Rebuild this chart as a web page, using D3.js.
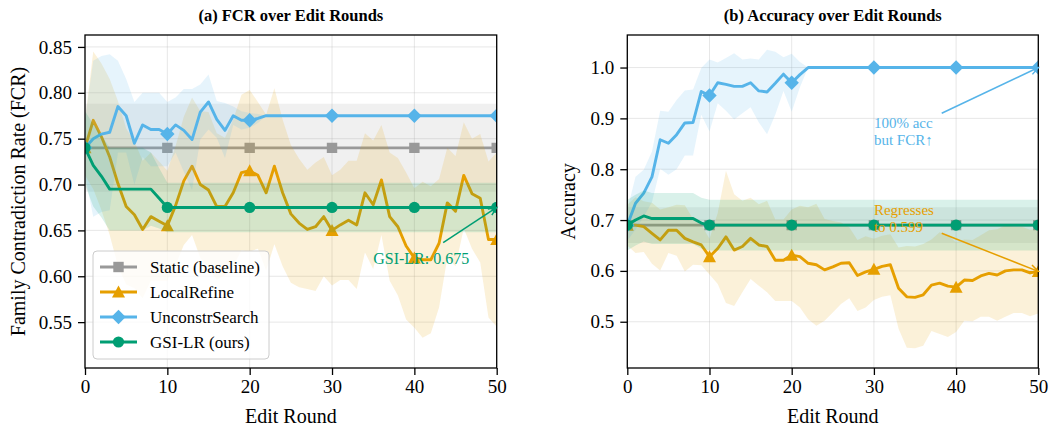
<!DOCTYPE html>
<html>
<head>
<meta charset="utf-8">
<script src="https://cdn.jsdelivr.net/npm/d3@7"></script>
<style>
  body { margin: 0; background: #fff; }
  svg { font-family: "Liberation Serif", "Times New Roman", serif; }
</style>
</head>
<body>
<svg id="chart" width="1049" height="427"></svg>
<script>
// ---- data ----
const rounds = d3.range(0, 51)
const xTicks = [0, 10, 20, 30, 40, 50]
const fcrTicks = [0.55, 0.60, 0.65, 0.70, 0.75, 0.80, 0.85]
const accTicks = [0.5, 0.6, 0.7, 0.8, 0.9, 1.0]

const methods = ['Static (baseline)', 'LocalRefine', 'UnconstrSearch', 'GSI-LR (ours)']
const colors = ['#999999', '#E69F00', '#56B4E9', '#009E73']
const markers = ['square', 'triangle', 'diamond', 'circle']

// (a) FCR, mean and std per round
const fcrStatic = [0.74,0.74,0.74,0.74,0.74,0.74,0.74,0.74,0.74,0.74,0.74,
  0.74,0.74,0.74,0.74,0.74,0.74,0.74,0.74,0.74,0.74,0.74,0.74,0.74,0.74,0.74,
  0.74,0.74,0.74,0.74,0.74,0.74,0.74,0.74,0.74,0.74,0.74,0.74,0.74,0.74,0.74,
  0.74,0.74,0.74,0.74,0.74,0.74,0.74,0.74,0.74,0.74]
const fcrStaticSd = [0.048,0.048,0.048,0.048,0.048,0.048,0.048,0.048,0.048,0.048,0.048,
  0.048,0.048,0.048,0.048,0.048,0.048,0.048,0.048,0.048,0.048,0.048,0.048,0.048,0.048,0.048,
  0.048,0.048,0.048,0.048,0.048,0.048,0.048,0.048,0.048,0.048,0.048,0.048,0.048,0.048,0.048,
  0.048,0.048,0.048,0.048,0.048,0.048,0.048,0.048,0.048,0.048]
const fcrLocal = [0.740,0.770,0.752,0.730,0.701,0.676,0.667,0.651,0.665,0.660,0.655,
  0.677,0.704,0.720,0.700,0.694,0.676,0.676,0.691,0.713,0.715,
  0.710,0.691,0.720,0.691,0.668,0.658,0.651,0.654,0.665,0.650,
  0.656,0.661,0.656,0.691,0.678,0.705,0.665,0.654,0.633,0.620,
  0.618,0.618,0.636,0.680,0.671,0.710,0.690,0.685,0.640,0.640]
const fcrLocalSd = [0.030,0.075,0.080,0.085,0.090,0.085,0.080,0.075,0.070,0.065,0.060,
  0.065,0.070,0.075,0.080,0.085,0.080,0.075,0.080,0.085,0.088,
  0.080,0.085,0.085,0.080,0.075,0.070,0.065,0.070,0.065,0.060,
  0.060,0.065,0.070,0.065,0.070,0.060,0.070,0.075,0.080,0.076,
  0.085,0.080,0.070,0.060,0.060,0.058,0.060,0.070,0.085,0.095]
const fcrUnc = [0.740,0.750,0.755,0.757,0.785,0.775,0.745,0.765,0.760,0.760,0.755,
  0.765,0.759,0.749,0.779,0.790,0.771,0.759,0.775,0.770,0.770,
  0.772,0.775,0.775,0.775,0.775,0.775,0.775,0.775,0.775,0.775,
  0.775,0.775,0.775,0.775,0.775,0.775,0.775,0.775,0.775,0.775,
  0.775,0.775,0.775,0.775,0.775,0.775,0.775,0.775,0.775,0.775]
const fcrUncSd = [0.030,0.085,0.085,0.085,0.050,0.040,0.045,0.035,0.040,0.040,0.035,
  0.030,0.045,0.055,0.030,0.030,0.020,0.030,0.010,0.010,0.008,
  0.005,0,0,0,0,0,0,0,0,0,
  0,0,0,0,0,0,0,0,0,0,
  0,0,0,0,0,0,0,0,0,0]
const fcrGsi = [0.740,0.721,0.709,0.695,0.695,0.695,0.695,0.695,0.695,0.685,0.675,
  0.675,0.675,0.675,0.675,0.675,0.675,0.675,0.675,0.675,0.675,
  0.675,0.675,0.675,0.675,0.675,0.675,0.675,0.675,0.675,0.675,
  0.675,0.675,0.675,0.675,0.675,0.675,0.675,0.675,0.675,0.675,
  0.675,0.675,0.675,0.675,0.675,0.675,0.675,0.675,0.675,0.675]
const fcrGsiSd = [0.040,0.045,0.045,0.045,0.045,0.045,0.045,0.045,0.040,0.033,0.027,
  0.027,0.027,0.027,0.027,0.027,0.027,0.027,0.027,0.027,0.027,
  0.027,0.027,0.027,0.027,0.027,0.027,0.027,0.027,0.027,0.027,
  0.027,0.027,0.027,0.027,0.027,0.027,0.027,0.027,0.027,0.027,
  0.027,0.027,0.027,0.027,0.027,0.027,0.027,0.027,0.027,0.027]

// (b) Accuracy, mean and std per round
const accStatic = [0.69,0.69,0.69,0.69,0.69,0.69,0.69,0.69,0.69,0.69,0.69,
  0.69,0.69,0.69,0.69,0.69,0.69,0.69,0.69,0.69,0.69,0.69,0.69,0.69,0.69,0.69,
  0.69,0.69,0.69,0.69,0.69,0.69,0.69,0.69,0.69,0.69,0.69,0.69,0.69,0.69,0.69,
  0.69,0.69,0.69,0.69,0.69,0.69,0.69,0.69,0.69,0.69]
const accStaticSd = [0.035,0.035,0.035,0.035,0.035,0.035,0.035,0.035,0.035,0.035,0.035,
  0.035,0.035,0.035,0.035,0.035,0.035,0.035,0.035,0.035,0.035,0.035,0.035,0.035,0.035,0.035,
  0.035,0.035,0.035,0.035,0.035,0.035,0.035,0.035,0.035,0.035,0.035,0.035,0.035,0.035,0.035,
  0.035,0.035,0.035,0.035,0.035,0.035,0.035,0.035,0.035,0.035]
const accLocal = [0.690,0.690,0.687,0.674,0.661,0.680,0.680,0.664,0.657,0.651,0.628,
  0.644,0.667,0.641,0.648,0.664,0.651,0.648,0.621,0.621,0.631,
  0.628,0.615,0.612,0.602,0.608,0.615,0.616,0.591,0.598,0.603,
  0.609,0.612,0.566,0.549,0.548,0.553,0.572,0.576,0.570,0.568,
  0.582,0.581,0.590,0.595,0.592,0.600,0.602,0.602,0.596,0.599]
const accLocalSd = [0.040,0.055,0.050,0.060,0.060,0.045,0.050,0.065,0.045,0.040,0.035,
  0.070,0.130,0.110,0.090,0.080,0.080,0.090,0.080,0.080,0.090,
  0.100,0.110,0.120,0.100,0.090,0.080,0.070,0.070,0.070,0.060,
  0.060,0.060,0.080,0.100,0.100,0.100,0.090,0.100,0.100,0.088,
  0.080,0.080,0.080,0.085,0.090,0.090,0.085,0.085,0.085,0.083]
const accUnc = [0.690,0.733,0.753,0.785,0.858,0.851,0.868,0.891,0.892,0.953,0.945,
  0.970,0.967,0.963,0.963,0.970,0.954,0.952,0.969,0.987,0.970,
  0.986,1,1,1,1,1,1,1,1,1,
  1,1,1,1,1,1,1,1,1,1,
  1,1,1,1,1,1,1,1,1,1]
const accUncSd = [0.030,0.052,0.046,0.050,0.057,0.062,0.068,0.064,0.065,0.046,0.071,
  0.040,0.052,0.065,0.053,0.048,0.062,0.083,0.062,0.033,0.057,
  0.025,0,0,0,0,0,0,0,0,0,
  0,0,0,0,0,0,0,0,0,0,
  0,0,0,0,0,0,0,0,0,0]
const accGsi = [0.690,0.700,0.708,0.703,0.703,0.703,0.703,0.703,0.703,0.694,0.690,
  0.690,0.690,0.690,0.690,0.690,0.690,0.690,0.690,0.690,0.690,
  0.690,0.690,0.690,0.690,0.690,0.690,0.690,0.690,0.690,0.690,
  0.690,0.690,0.690,0.690,0.690,0.690,0.690,0.690,0.690,0.690,
  0.690,0.690,0.690,0.690,0.690,0.690,0.690,0.690,0.690,0.690]
const accGsiSd = [0.05,0.05,0.05,0.05,0.05,0.05,0.05,0.05,0.05,0.05,0.05,
  0.05,0.05,0.05,0.05,0.05,0.05,0.05,0.05,0.05,0.05,0.05,0.05,0.05,0.05,0.05,
  0.05,0.05,0.05,0.05,0.05,0.05,0.05,0.05,0.05,0.05,0.05,0.05,0.05,0.05,0.05,
  0.05,0.05,0.05,0.05,0.05,0.05,0.05,0.05,0.05,0.05]

// ---- layout ----
const plotTop = 35, plotBottom = 368
const svg = d3.select('#chart')

function markerPath(type) {
  if (type === 'square') return 'M-5.2,-5.2H5.2V5.2H-5.2Z'
  if (type === 'triangle') return 'M0,-6.5L6.5,5.5L-6.5,5.5Z'
  if (type === 'diamond') return 'M0,-7.2L7.2,0L0,7.2L-7.2,0Z'
  return d3.arc()({ innerRadius: 0, outerRadius: 5.6, startAngle: 0, endAngle: 2 * Math.PI })
}

function drawArrow(g, x1, y1, x2, y2, color) {
  g.append('line')
    .attr('x1', x1).attr('y1', y1).attr('x2', x2).attr('y2', y2)
    .attr('stroke', color).attr('stroke-width', 1.5)
  const ang = Math.atan2(y2 - y1, x2 - x1)
  const len = 9, w = 0.42
  const p1 = [x2 - len * Math.cos(ang - w), y2 - len * Math.sin(ang - w)]
  const p2 = [x2 - len * Math.cos(ang + w), y2 - len * Math.sin(ang + w)]
  g.append('path')
    .attr('d', `M${p1[0]},${p1[1]}L${x2},${y2}L${p2[0]},${p2[1]}`)
    .attr('fill', 'none').attr('stroke', color).attr('stroke-width', 1.5)
}

function panel(o) {
  const x = d3.scaleLinear().domain([0, 50]).range([o.left, o.right])
  const y = d3.scaleLinear().domain(o.yDomain).range([plotBottom, plotTop])
  const g = svg.append('g')

  const clipId = 'clip' + o.id
  g.append('clipPath').attr('id', clipId)
    .append('rect').attr('x', o.left).attr('y', plotTop)
    .attr('width', o.right - o.left).attr('height', plotBottom - plotTop)

  // grid
  const grid = g.append('g').attr('stroke', '#b0b0b0').attr('stroke-opacity', 0.3).attr('stroke-width', 1)
  xTicks.forEach(t => grid.append('line').attr('x1', x(t)).attr('x2', x(t)).attr('y1', plotTop).attr('y2', plotBottom))
  o.yTicks.forEach(t => grid.append('line').attr('x1', o.left).attr('x2', o.right).attr('y1', y(t)).attr('y2', y(t)))

  const plot = g.append('g').attr('clip-path', `url(#${clipId})`)
  o.series.forEach((s, i) => {
    const area = d3.area()
      .x((d, k) => x(rounds[k]))
      .y0((d, k) => y(s.mean[k] - s.sd[k]))
      .y1((d, k) => y(s.mean[k] + s.sd[k]))
    plot.append('path').datum(s.mean).attr('d', area)
      .attr('fill', colors[i]).attr('fill-opacity', 0.15)

    const line = d3.line().x((d, k) => x(rounds[k])).y(d => y(d))
    plot.append('path').datum(s.mean).attr('d', line)
      .attr('fill', 'none').attr('stroke', colors[i]).attr('stroke-width', 2.9)
      .attr('stroke-linejoin', 'round')

    plot.selectAll(null)
      .data(rounds.filter(r => r % 10 === 0))
      .enter().append('path')
      .attr('d', markerPath(markers[i]))
      .attr('transform', r => `translate(${x(r)},${y(s.mean[r])})`)
      .attr('fill', colors[i])
  })

  // frame
  g.append('rect').attr('x', o.left).attr('y', plotTop)
    .attr('width', o.right - o.left).attr('height', plotBottom - plotTop)
    .attr('fill', 'none').attr('stroke', '#000').attr('stroke-width', 1.3)

  // axes
  const xAxis = g.append('g').attr('transform', `translate(0,${plotBottom})`)
    .call(d3.axisBottom(x).tickValues(xTicks).tickFormat(d3.format('d')).tickSize(7).tickPadding(5))
  const yAxis = g.append('g').attr('transform', `translate(${o.left},0)`)
    .call(d3.axisLeft(y).tickValues(o.yTicks).tickFormat(d3.format(o.fmt)).tickSize(7).tickPadding(6))
  ;[xAxis, yAxis].forEach(ax => {
    ax.attr('font-family', null).attr('font-size', 19)
    ax.select('.domain').remove()
    ax.selectAll('line').attr('stroke', '#000').attr('stroke-width', 1.3)
    ax.selectAll('text').attr('fill', '#000')
  })

  // titles and labels
  g.append('text').attr('x', (o.left + o.right) / 2).attr('y', 21)
    .attr('text-anchor', 'middle').attr('font-weight', 'bold').attr('font-size', 16.5)
    .text(o.title)
  g.append('text').attr('x', (o.left + o.right) / 2).attr('y', 423)
    .attr('text-anchor', 'middle').attr('font-size', 20).text('Edit Round')
  g.append('text')
    .attr('transform', `translate(${o.labelX},${(plotTop + plotBottom) / 2}) rotate(-90)`)
    .attr('text-anchor', 'middle').attr('dy', '0.35em').attr('font-size', 20).text(o.ylabel)

  return { g, x, y }
}

// ---- panel (a) ----
const pa = panel({
  id: 'a', left: 85, right: 496.7, yDomain: [0.50, 0.863], yTicks: fcrTicks, fmt: '.2f',
  title: '(a) FCR over Edit Rounds', ylabel: 'Family Contradiction Rate (FCR)', labelX: 18,
  series: [
    { mean: fcrStatic, sd: fcrStaticSd },
    { mean: fcrLocal, sd: fcrLocalSd },
    { mean: fcrUnc, sd: fcrUncSd },
    { mean: fcrGsi, sd: fcrGsiSd }
  ]
})

// annotation (a)
pa.g.append('text').attr('x', pa.x(35)).attr('y', pa.y(0.62)).attr('dy', '0.35em')
  .attr('font-size', 16).attr('fill', colors[3]).text('GSI-LR: 0.675')
drawArrow(pa.g, pa.x(43.5), pa.y(0.6366), pa.x(50), pa.y(fcrGsi[50]), colors[3])

// legend
const leg = pa.g.append('g')
leg.append('rect').attr('x', 93).attr('y', 251).attr('width', 176).attr('height', 108)
  .attr('rx', 4).attr('fill', '#fff').attr('fill-opacity', 0.8)
  .attr('stroke', '#cccccc').attr('stroke-width', 1)
methods.forEach((m, i) => {
  const yy = 267 + i * 25
  leg.append('line').attr('x1', 100).attr('x2', 137).attr('y1', yy).attr('y2', yy)
    .attr('stroke', colors[i]).attr('stroke-width', 2.9)
  leg.append('path').attr('d', markerPath(markers[i]))
    .attr('transform', `translate(118.5,${yy})`).attr('fill', colors[i])
  leg.append('text').attr('x', 150).attr('y', yy).attr('dy', '0.35em')
    .attr('font-size', 17).text(m)
})

// ---- panel (b) ----
const pb = panel({
  id: 'b', left: 627.3, right: 1038.3, yDomain: [0.409, 1.064], yTicks: accTicks, fmt: '.1f',
  title: '(b) Accuracy over Edit Rounds', ylabel: 'Accuracy', labelX: 568,
  series: [
    { mean: accStatic, sd: accStaticSd },
    { mean: accLocal, sd: accLocalSd },
    { mean: accUnc, sd: accUncSd },
    { mean: accGsi, sd: accGsiSd }
  ]
})

// annotations (b)
const noteBlue = pb.g.append('text').attr('font-size', 15).attr('fill', colors[2])
noteBlue.append('tspan').attr('x', pb.x(30)).attr('y', pb.y(0.875) - 8.5).attr('dy', '0.35em').text('100% acc')
noteBlue.append('tspan').attr('x', pb.x(30)).attr('y', pb.y(0.875) + 8.5).attr('dy', '0.35em').text('but FCR↑')
drawArrow(pb.g, pb.x(38.25), pb.y(0.910), pb.x(50), pb.y(accUnc[50]), colors[2])

const noteOrange = pb.g.append('text').attr('font-size', 15).attr('fill', colors[1])
noteOrange.append('tspan').attr('x', pb.x(30)).attr('y', pb.y(0.704) - 8.5).attr('dy', '0.35em').text('Regresses')
noteOrange.append('tspan').attr('x', pb.x(30)).attr('y', pb.y(0.704) + 8.5).attr('dy', '0.35em').text('to 0.599')
drawArrow(pb.g, pb.x(38.25), pb.y(0.674), pb.x(50), pb.y(accLocal[50]), colors[1])
</script>
</body>
</html>
